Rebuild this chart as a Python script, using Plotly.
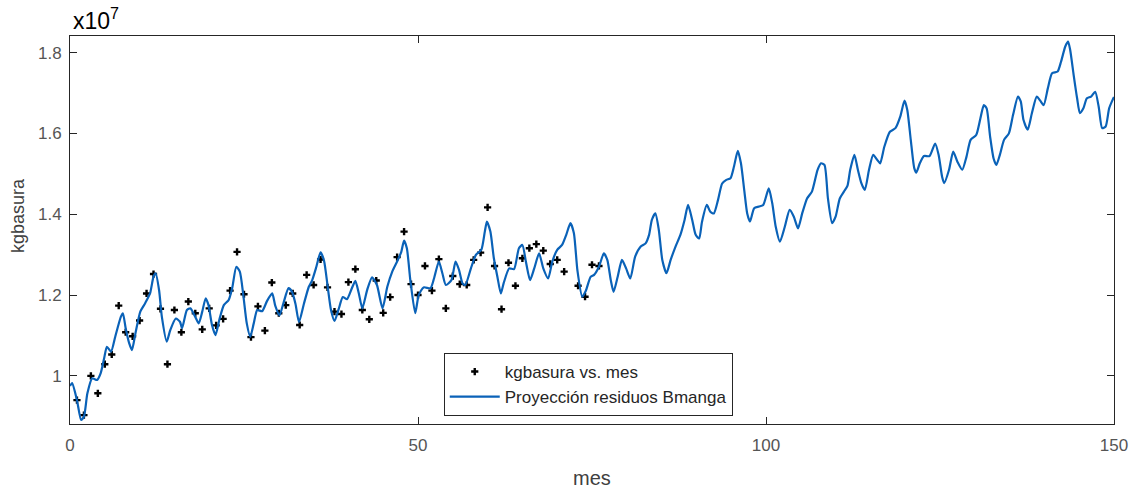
import plotly.graph_objects as go

# Observed data: month (mes) and kg of garbage (x10^7)
mes_pts = list(range(1, 72)) + [73, 74, 75, 76]
kg_pts = [0.940, 0.903, 1.000, 0.957, 1.029, 1.053, 1.174, 1.108, 1.098, 1.137,
          1.204, 1.252, 1.166, 1.029, 1.163, 1.108, 1.184, 1.155, 1.115, 1.167,
          1.125, 1.141, 1.211, 1.307, 1.202, 1.096, 1.172, 1.112, 1.231, 1.155,
          1.175, 1.204, 1.126, 1.250, 1.225, 1.288, 1.219, 1.159, 1.153, 1.232,
          1.264, 1.163, 1.140, 1.236, 1.156, 1.195, 1.294, 1.357, 1.227, 1.200,
          1.272, 1.211, 1.289, 1.167, 1.247, 1.227, 1.225, 1.287, 1.305, 1.417,
          1.272, 1.165, 1.280, 1.223, 1.291, 1.316, 1.326, 1.310, 1.277, 1.287,
          1.258, 1.223, 1.196, 1.275, 1.272]

# Projection curve (mes, value x10^7)
proj_mes = [0.0, 0.3, 1.0, 1.6, 2.0, 2.5, 3.2, 3.9, 4.4, 4.9, 5.3, 5.9, 6.5, 7.3, 7.6, 8.0,
            8.5, 8.9, 9.4, 10.1, 10.8, 11.5, 12.0, 12.3, 12.8, 13.2, 13.9, 14.4, 15.2, 15.8,
            16.1, 16.8, 17.3, 18.0, 18.5, 19.0, 19.5, 19.9, 20.4, 20.9, 21.5, 22.1, 22.8,
            23.3, 23.9, 24.4, 24.9, 25.4, 25.9, 26.4, 26.9, 27.6, 28.3, 29.05, 29.5, 30.1,
            30.7, 31.4, 31.9, 32.4, 32.9, 33.6, 34.3, 34.8, 35.4, 36.0, 36.5, 37.05, 37.5,
            38.0, 38.6, 39.2, 39.8, 40.5, 41.0, 41.5, 42.0, 42.7, 43.4, 44.1, 44.9, 45.6,
            46.3, 47.0, 47.6, 48.0, 48.4, 48.9, 49.6, 50.1, 50.8, 51.8, 52.3, 53.0, 53.5,
            54.0, 54.8, 55.4, 55.9, 56.4, 56.8, 57.6, 58.3, 59.1, 59.6, 59.9, 60.4, 60.9,
            61.4, 61.9, 62.3, 63.1, 63.8, 64.5, 65.0, 65.5, 66.1, 66.7, 67.4, 68.0, 68.7,
            69.3, 70.0, 70.7, 71.3, 71.9, 72.4, 72.9, 73.6, 74.1, 74.8, 75.3, 76.0, 76.7,
            77.2, 77.7, 78.1, 78.7, 79.3, 79.9, 80.5, 81.2, 82.0, 82.7, 83.2, 83.6, 84.1,
            84.6, 85.1, 85.7, 86.3, 87.0, 87.7, 88.3, 88.8, 89.4, 89.9, 90.4, 90.8, 91.5,
            92.0, 92.5, 93.1, 93.7, 94.3, 94.9, 95.4, 95.95, 96.4, 96.9, 97.3, 97.7, 98.3,
            99.0, 99.6, 100.4, 100.9, 101.4, 102.0, 102.7, 103.4, 104.0, 104.6, 105.2,
            105.9, 106.6, 107.4, 107.9, 108.4, 108.9, 109.5, 110.0, 110.6, 111.2, 111.7,
            112.1, 112.7, 113.2, 113.7, 114.2, 114.8, 115.4, 116.0, 116.4, 117.0, 117.8,
            118.6, 119.3, 119.9, 120.3, 120.8, 121.3, 121.6, 122.1, 122.7, 123.5, 124.3,
            124.8, 125.3, 125.6, 126.3, 126.9, 127.5, 128.2, 128.8, 129.4, 130.2, 130.8,
            131.3, 131.7, 132.2, 132.7, 133.1, 133.6, 134.2, 134.9, 135.5, 136.2, 136.6,
            137.0, 137.6, 138.2, 138.9, 139.4, 139.9, 140.5, 141.1, 141.9, 142.4, 143.0,
            143.4, 143.7, 144.2, 144.7, 145.1, 145.6, 146.1, 146.7, 147.3, 147.8, 148.3,
            148.8, 149.3, 149.8, 150.0]
proj_val = [0.975, 0.982, 0.940, 0.891, 0.899, 0.957, 0.994, 0.990, 1.006, 1.043, 1.072,
            1.060, 1.097, 1.146, 1.155, 1.118, 1.081, 1.064, 1.105, 1.159, 1.180, 1.204,
            1.246, 1.254, 1.212, 1.146, 1.085, 1.113, 1.142, 1.134, 1.118, 1.163, 1.167,
            1.146, 1.130, 1.159, 1.192, 1.175, 1.126, 1.101, 1.142, 1.175, 1.188, 1.217,
            1.270, 1.258, 1.200, 1.130, 1.097, 1.130, 1.163, 1.160, 1.185, 1.204, 1.173,
            1.150, 1.182, 1.217, 1.208, 1.178, 1.133, 1.178, 1.220, 1.237, 1.270, 1.306,
            1.285, 1.217, 1.163, 1.136, 1.165, 1.195, 1.190, 1.217, 1.235, 1.204, 1.167,
            1.213, 1.244, 1.225, 1.167, 1.221, 1.258, 1.283, 1.307, 1.335, 1.316, 1.237,
            1.155, 1.200, 1.219, 1.217, 1.241, 1.283, 1.254, 1.225, 1.237, 1.283, 1.262,
            1.229, 1.225, 1.266, 1.299, 1.312, 1.357, 1.382, 1.357, 1.291, 1.246, 1.204,
            1.229, 1.266, 1.264, 1.316, 1.324, 1.283, 1.237, 1.266, 1.303, 1.266, 1.241,
            1.283, 1.312, 1.324, 1.349, 1.378, 1.353, 1.262, 1.196, 1.210, 1.245, 1.250,
            1.270, 1.303, 1.287, 1.237, 1.208, 1.246, 1.287, 1.266, 1.241, 1.295, 1.320,
            1.328, 1.349, 1.386, 1.402, 1.361, 1.287, 1.254, 1.287, 1.320, 1.349, 1.386,
            1.423, 1.386, 1.349, 1.340, 1.381, 1.423, 1.406, 1.402, 1.435, 1.476, 1.485,
            1.489, 1.518, 1.557, 1.526, 1.456, 1.402, 1.382, 1.415, 1.419, 1.423, 1.464,
            1.427, 1.369, 1.332, 1.369, 1.411, 1.394, 1.365, 1.402, 1.439, 1.456, 1.509,
            1.526, 1.522, 1.439, 1.378, 1.394, 1.439, 1.456, 1.470, 1.510, 1.547, 1.510,
            1.477, 1.460, 1.510, 1.547, 1.534, 1.526, 1.567, 1.604, 1.613, 1.642, 1.681,
            1.658, 1.584, 1.514, 1.503, 1.526, 1.544, 1.544, 1.575, 1.547, 1.493, 1.477,
            1.510, 1.555, 1.530, 1.510, 1.542, 1.584, 1.596, 1.637, 1.670, 1.662, 1.592,
            1.538, 1.522, 1.547, 1.584, 1.600, 1.646, 1.691, 1.679, 1.633, 1.609, 1.650,
            1.691, 1.681, 1.670, 1.712, 1.749, 1.753, 1.778, 1.815, 1.827, 1.807, 1.745,
            1.687, 1.650, 1.662, 1.687, 1.691, 1.703, 1.666, 1.613, 1.617, 1.662, 1.683,
            1.690]

x_ticks = [0, 50, 100, 150]
y_ticks = [1.0, 1.2, 1.4, 1.6, 1.8]
y_ticktext = ["1", "1.2", "1.4", "1.6", "1.8"]

FONT = "Liberation Sans, Arial, sans-serif"

fig = go.Figure()
fig.add_trace(go.Scatter(
    x=mes_pts, y=kg_pts, mode="markers", name="kgbasura vs. mes",
    marker=dict(symbol="cross", size=6, color="black"),
))
fig.add_trace(go.Scatter(
    x=proj_mes, y=proj_val, mode="lines", name="Proyección residuos Bmanga",
    line=dict(color="#0a62b8", width=2.2, shape="spline", smoothing=0.6),
))

axis_common = dict(
    showline=True, linecolor="#262626", linewidth=1, mirror="ticks",
    ticks="inside", ticklen=7, tickcolor="#262626", showgrid=False, zeroline=False,
    tickfont=dict(family=FONT, size=17, color="#555555"),
)
fig.update_xaxes(range=[0, 150], tickvals=x_ticks, ticklabelstandoff=6, **axis_common)
fig.update_yaxes(range=[0.881, 1.841], tickvals=y_ticks, ticktext=y_ticktext,
                 ticklabelstandoff=4, **axis_common)

# axis titles and exponent label
fig.add_annotation(xref="paper", yref="paper", x=0.5, y=0, xanchor="center", yanchor="middle",
                   yshift=-54, showarrow=False, text="mes",
                   font=dict(family=FONT, size=20, color="#404040"))
fig.add_annotation(xref="paper", yref="paper", x=0, y=0.5, xanchor="center", yanchor="middle",
                   xshift=-52, yshift=14, textangle=-90, showarrow=False, text="kgbasura",
                   font=dict(family=FONT, size=18, color="#404040"))
fig.add_annotation(xref="paper", yref="paper", x=0, y=1, xanchor="left", yanchor="bottom",
                   xshift=1, yshift=0, showarrow=False, text="x10<sup>7</sup>",
                   font=dict(family=FONT, size=23, color="black"))

fig.update_layout(
    width=1139, height=490,
    margin=dict(l=70, r=25, t=36, b=66),
    paper_bgcolor="white", plot_bgcolor="white",
    showlegend=True,
    legend=dict(x=0.358, y=0.183, xanchor="left", yanchor="top",
                bgcolor="white", bordercolor="#262626", borderwidth=1,
                font=dict(family=FONT, size=17, color="#262626"),
                itemwidth=50, tracegroupgap=0),
)

fig.write_html("out.html")
